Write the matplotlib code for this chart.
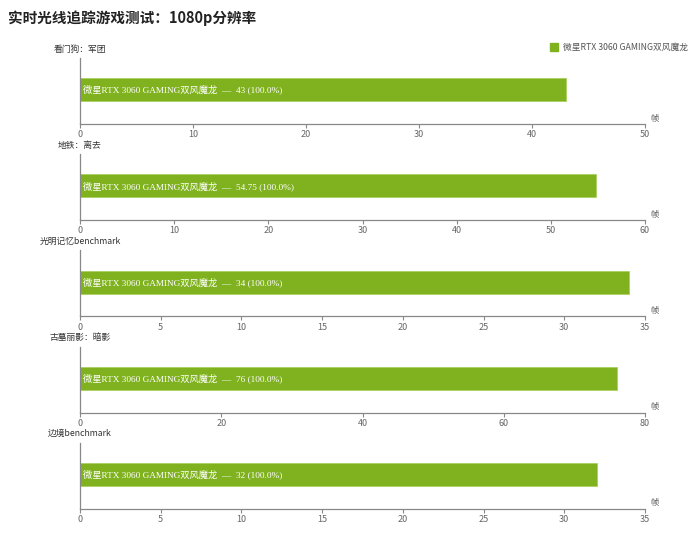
import matplotlib.pyplot as plt

plt.rcParams['font.family'] = ['Noto Sans CJK SC', 'DejaVu Sans']

title = '实时光线追踪游戏测试：1080p分辨率'
series_name = '微星RTX 3060 GAMING双风魔龙'
games = ['看门狗：军团', '地铁：离去', '光明记忆benchmark', '古墓丽影：暗影', '边境benchmark']
fps = [43, 54.75, 34, 76, 32]
x_max = [50, 60, 35, 80, 35]
x_step = [10, 10, 5, 20, 5]
unit = '帧'

green = '#80b21f'
axis_grey = '#888888'
text_grey = '#555555'

W, H = 690, 551
fig = plt.figure(figsize=(W / 100, H / 100), dpi=100)

fig.text(8 / W, 1 - 18 / H, title, fontsize=10.5, fontweight='bold',
         color='#222222', va='center', ha='left')

# legend
fig.patches.append(plt.Rectangle((550 / W, 1 - 51 / H), 8 / W, 8 / H,
                                 transform=fig.transFigure, color=green))
fig.text(563 / W, 1 - 47 / H, series_name, fontsize=6.3, color=text_grey,
         va='center', ha='left')

left, right = 80, 645
for i, (game, v, xm, st) in enumerate(zip(games, fps, x_max, x_step)):
    axis_y = 124 + i * 96.2
    ax = fig.add_axes([left / W, 1 - axis_y / H, (right - left) / W, 66 / H])
    ax.barh([0.52], [v], height=0.35, color=green, edgecolor='#a8d060', linewidth=0.6)
    ax.set_xlim(0, xm)
    ax.set_ylim(0, 1)
    ax.set_xticks(range(0, xm + 1, st))
    ax.set_yticks([])
    for s in ['top', 'right']:
        ax.spines[s].set_visible(False)
    for s in ['left', 'bottom']:
        ax.spines[s].set_color(axis_grey)
        ax.spines[s].set_linewidth(0.9)
    ax.tick_params(axis='x', length=3, width=0.8, color=axis_grey,
                   labelsize=6.5, labelcolor='#666666', pad=1.5)
    ax.text(xm * 0.006, 0.52, f'{series_name}  —  {v:g} (100.0%)',
            color='white', fontsize=6.7, va='center', ha='left',
            family=['Liberation Serif', 'Noto Sans CJK SC'])
    ax.text(1.01, 0.02, unit, transform=ax.transAxes, fontsize=6,
            color=text_grey, ha='left', va='bottom')
    fig.text(80 / W, 1 - (axis_y - 75) / H, game, fontsize=6.3, color='#333333',
             ha='center', va='center')

fig.savefig('out.png', dpi=100)
